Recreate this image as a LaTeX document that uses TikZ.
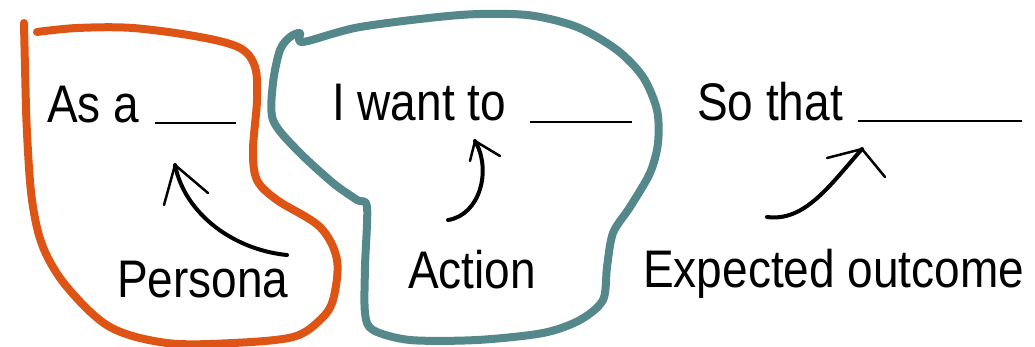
\documentclass[tikz,border=0pt]{standalone}
\usepackage{fontspec}
\usepackage{graphicx}
\setmainfont{Liberation Sans}
\definecolor{persorange}{RGB}{222,84,20}
\definecolor{actteal}{RGB}{84,136,138}
\newcommand\stretchtxt[1]{\scalebox{1}[1.15]{#1}}
\begin{document}
\begin{tikzpicture}[x=1pt,y=-1pt,
  lbl/.style={anchor=base west,inner sep=0pt,font=\fontsize{46}{50}\selectfont},
  blank/.style={line width=2pt,black},
  outline/.style={line width=8pt,line cap=round,line join=round},
  shaft/.style={line width=4pt,line cap=round},
  headleg/.style={line width=2.5pt,line cap=round}]
\useasboundingbox (0,0) rectangle (1035,346);
% outlines
\draw[outline,persorange] plot[smooth,tension=0.55] coordinates{
 (37,32) (77,28) (133,28) (200,37) (240,48) (255,67) (257,100) (253,150) (257,180)
 (277,200) (320,227) (337,260) (333,300) (320,320) (293,337) (233,343) (167,343)
 (110,327) (67,287) (43,247) (32,200) (27,133) (25,67) (24,23)};
\draw[outline,actteal] plot[smooth cycle,tension=0.5] coordinates{
 (300,33) (303,42) (360,27) (460,15) (527,15) (577,27) (617,50) (643,77) (657,110)
 (658,143) (650,173) (630,207) (613,233) (607,267) (603,300) (580,320) (543,333)
 (477,340) (410,340) (373,330) (365,313) (365,267) (367,207) (357,200) (333,183)
 (297,150) (273,120) (273,83) (280,50) (290,37)};
% texts
\node[lbl] (asa) at (47,122) {\stretchtxt{As a}};
\node[lbl] (iwant) at (332,120) {\stretchtxt{I want to}};
\node[lbl] (sothat) at (697,120) {\stretchtxt{So that}};
\node[lbl] (persona) at (117,297) {\stretchtxt{Persona}};
\node[lbl] (action) at (408,288) {\stretchtxt{Action}};
\node[lbl] (outcome) at (643,287) {\stretchtxt{Expected outcome}};
% blanks
\coordinate (b1s) at (155,123); \coordinate (b1e) at (236,123);
\coordinate (b2s) at (530,122); \coordinate (b2e) at (632,122);
\coordinate (b3s) at (858,121); \coordinate (b3e) at (1022,121);
\draw[blank] (b1s) -- (b1e);
\draw[blank] (b2s) -- (b2e);
\draw[blank] (b3s) -- (b3e);
% arrows
\coordinate (p0) at (287,255); \coordinate (pt) at (175,165);
\draw[shaft] (p0) .. controls (235,250) and (185,215) .. (pt);
\draw[headleg] (pt) -- (164,205);
\draw[headleg] (pt) -- (208,193);
\coordinate (a0) at (448,220); \coordinate (at) at (475,141);
\draw[shaft] (a0) .. controls (480,215) and (492,170) .. (at);
\draw[headleg] (at) -- (470,161);
\draw[headleg] (at) -- (500,156);
\coordinate (e0) at (767,217); \coordinate (et) at (862,149);
\draw[shaft] (e0) .. controls (805,222) and (830,185) .. (et);
\draw[headleg] (et) -- (827,158);
\draw[headleg] (et) -- (885,177);
\end{tikzpicture}
\end{document}
